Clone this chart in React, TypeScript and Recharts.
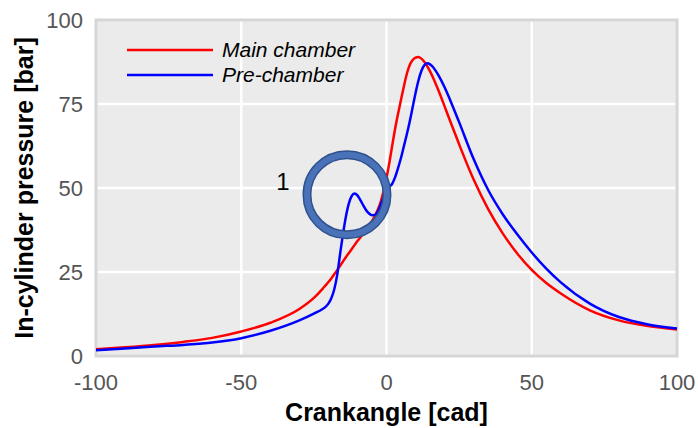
import {
  CartesianGrid,
  Legend,
  Line,
  LineChart,
  ReferenceArea,
  ReferenceDot,
  XAxis,
  YAxis,
} from "recharts";

const FONT = "'Liberation Sans', Arial, sans-serif";

// crank angle [cad]
const CRANK = [
  -100, -90, -80, -70, -60, -50, -40, -30, -25, -22, -21, -20, -19, -18, -17, -16, -15, -14, -13, -12, -11, -10, -9,
  -8, -7, -6, -5, -4, -3, -2, -1, 0, 1, 2, 3, 4, 5, 6, 7, 8, 9, 10, 11, 12, 13, 14, 15, 16, 17, 18, 20, 22, 25, 30, 35,
  40, 45, 50, 55, 60, 70, 80, 90, 100,
];

// main chamber pressure [bar]
const MAIN = [
  2.0, 2.6, 3.3, 4.2, 5.4, 7.3, 9.9, 14.0, 17.3, 20.0, 21.0, 22.0, 23.1, 24.3, 25.5, 26.8, 28.1, 29.4, 30.6, 31.8,
  33.0, 34.2, 35.3, 36.5, 37.6, 38.8, 40.1, 41.7, 43.5, 45.9, 49.2, 53.0, 57.6, 62.8, 67.8, 72.2, 76.3, 80.3, 84.0,
  86.6, 88.1, 88.8, 89.0, 88.5, 87.6, 86.3, 84.7, 82.9, 80.9, 78.8, 74.3, 69.7, 63.0, 52.5, 43.7, 36.5, 30.5, 25.6,
  21.7, 18.6, 13.6, 10.6, 8.9, 7.9,
];

// pre-chamber pressure [bar]
const PRE = [
  1.7, 2.2, 2.8, 3.3, 4.0, 5.3, 7.5, 10.6, 12.6, 14.0, 14.6, 15.6, 17.2, 19.8, 24.0, 30.2, 36.2, 41.4, 45.3, 47.6,
  48.4, 47.8, 46.4, 44.8, 43.4, 42.4, 41.9, 42.0, 43.0, 45.0, 47.3, 49.0, 50.3, 51.3, 53.3, 56.0, 59.0, 62.5, 66.0,
  69.8, 74.0, 78.3, 82.0, 84.8, 86.5, 87.1, 86.8, 86.0, 84.8, 83.4, 80.0, 76.0, 69.6, 58.6, 49.4, 42.2, 36.2, 30.8,
  26.0, 21.9, 15.6, 11.6, 9.4, 8.2,
];

const X_TICKS = [-100, -50, 0, 50, 100];
const Y_TICKS = [0, 25, 50, 75, 100];

const SERIES = [
  { key: "main", name: "Main chamber", color: "#ff0000" },
  { key: "pre", name: "Pre-chamber", color: "#0000ff" },
];

// highlighted pre-chamber bump
const BUMP = { crank: -13.6, pressure: 48, label: "1" };

const data = CRANK.map((crank, i) => ({ crank, main: MAIN[i], pre: PRE[i] }));

function LegendBox() {
  return (
    <svg width={260} height={56} style={{ display: "block" }}>
      {SERIES.map((s, i) => (
        <g key={s.key}>
          <line x1={0} x2={86} y1={14 + i * 25} y2={14 + i * 25} stroke={s.color} strokeWidth={2.5} />
          <text x={95} y={21 + i * 25} fontSize={21} fontStyle="italic" fontFamily={FONT} fill="#000">
            {s.name}
          </text>
        </g>
      ))}
    </svg>
  );
}

function Ring(props: any) {
  const { cx, cy } = props;
  return (
    <g>
      <circle cx={cx} cy={cy} r={40} fill="none" stroke="#2f528f" strokeWidth={9} />
      <circle cx={cx} cy={cy} r={40} fill="none" stroke="#4a72b8" strokeWidth={6} />
      <text x={cx - 64} y={cy - 4.5} textAnchor="middle" fontSize={24} fontFamily={FONT} fill="#000">
        {BUMP.label}
      </text>
    </g>
  );
}

function YTitle(props: any) {
  const { viewBox } = props;
  const cy = viewBox.y + viewBox.height / 2;
  return (
    <text
      x={33}
      y={cy}
      transform={`rotate(-90 33 ${cy})`}
      textAnchor="middle"
      fontSize={25}
      fontWeight="bold"
      fontFamily={FONT}
      fill="#000"
    >
      In-cylinder pressure [bar]
    </text>
  );
}

function XTitle(props: any) {
  const { viewBox } = props;
  const cx = viewBox.x + viewBox.width / 2;
  return (
    <text x={cx} y={421} textAnchor="middle" fontSize={25} fontWeight="bold" fontFamily={FONT} fill="#000">
      Crankangle [cad]
    </text>
  );
}

export default function App() {
  return (
    <div style={{ position: "absolute", left: 0, top: 0, background: "#fff" }}>
      <LineChart width={698} height={428} data={data} margin={{ top: 20, right: 21, bottom: 0, left: 0 }}>
        <CartesianGrid fill="#ebebeb" stroke="#ffffff" strokeWidth={2.5} verticalValues={X_TICKS} horizontalValues={Y_TICKS} />
        <XAxis
          dataKey="crank"
          type="number"
          domain={[-100, 100]}
          ticks={X_TICKS}
          height={72}
          axisLine={false}
          tickLine={false}
          tickSize={0}
          tickMargin={18}
          tick={{ fill: "#555555", fontSize: 22, fontFamily: FONT }}
          label={<XTitle />}
        />
        <YAxis
          type="number"
          domain={[0, 100]}
          ticks={Y_TICKS}
          width={96}
          axisLine={false}
          tickLine={false}
          tickSize={0}
          tickMargin={13}
          tick={{ fill: "#555555", fontSize: 22, fontFamily: FONT }}
          label={<YTitle />}
        />
        <ReferenceArea x1={-100} x2={100} y1={0} y2={100} fill="none" stroke="#d6d6d6" strokeWidth={3} />
        {SERIES.map((s) => (
          <Line
            key={s.key}
            type="monotone"
            dataKey={s.key}
            name={s.name}
            stroke={s.color}
            strokeWidth={2.5}
            dot={false}
            isAnimationActive={false}
          />
        ))}
        <ReferenceDot x={BUMP.crank} y={BUMP.pressure} r={40} shape={<Ring />} />
        <Legend
          layout="horizontal"
          verticalAlign="middle"
          align="center"
          content={<LegendBox />}
          wrapperStyle={{ top: 36, left: 127, width: 260, height: 56 }}
        />
      </LineChart>
    </div>
  );
}
